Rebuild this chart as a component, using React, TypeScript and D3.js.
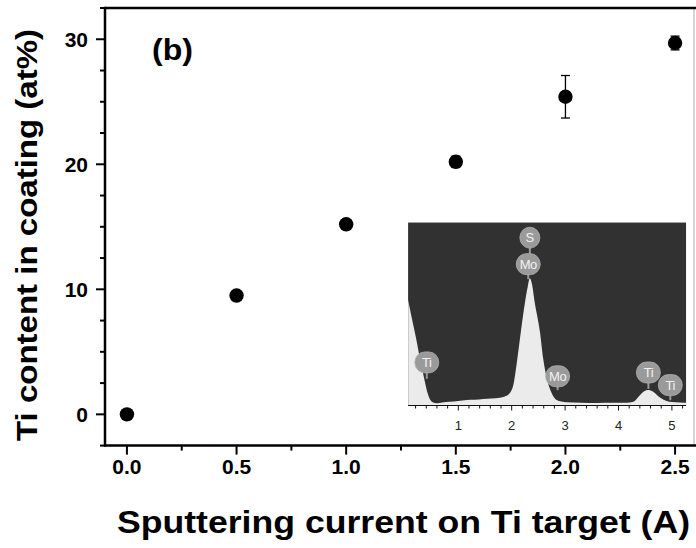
import React from "react";
import * as d3 from "d3";

// Main data
const currents = [0, 0.5, 1.0, 1.5, 2.0, 2.5];
const tiContent = [0, 9.5, 15.2, 20.2, 25.4, 29.7];
const tiError = [0, 0, 0, 0.45, 1.7, 0.55];
const xTicks = [0, 0.5, 1.0, 1.5, 2.0, 2.5];
const xTickLabels = ["0.0", "0.5", "1.0", "1.5", "2.0", "2.5"];
const xMinorTicks = [0.25, 0.75, 1.25, 1.75, 2.25];
const yTicks = [0, 10, 20, 30];
const yMinorTicks = [-2.5, 2.5, 5, 7.5, 12.5, 15, 17.5, 22.5, 25, 27.5, 32.5];

// Inset EDS spectrum (energy in keV, relative counts)
const spectrumEnergy = [0.06, 0.13, 0.21, 0.28, 0.36, 0.43, 0.51, 0.6, 0.7, 0.84, 1.0, 1.16, 1.3, 1.47, 1.62, 1.78, 1.87, 1.94, 2.03, 2.09, 2.17, 2.25, 2.3, 2.34, 2.38, 2.43, 2.53, 2.59, 2.66, 2.75, 2.84, 2.93, 3.03, 3.3, 3.6, 3.9, 4.15, 4.28, 4.4, 4.49, 4.55, 4.65, 4.77, 4.9, 5.0, 5.15, 5.3];
const spectrumCounts = [82.5, 68, 52, 36.5, 20.5, 8, 1.6, 0.5, 1.2, 1.8, 2.4, 3.2, 3.4, 4, 4.3, 5, 6, 7.5, 15, 31, 57, 81, 93, 99.8, 95, 81, 57, 36, 20, 8.5, 3.2, 2, 1.3, 1, 0.8, 0.9, 1, 1.8, 7, 10.3, 11.1, 9.8, 5.3, 2.4, 1.6, 1.2, 1.0];
const peakLabels = ["S", "Mo", "Ti", "Mo", "Ti", "Ti"];
const peakLabelEnergy = [2.34, 2.31, 0.41, 2.86, 4.56, 4.97];
const peakLabelHeight = [132, 111, 33, 22, 25, 15];
const peakStemEnd = [111, 99, 20, 11, 12, 3];
const insetTicks = [1, 2, 3, 4, 5];
const insetMinorTicks = [0.2, 0.4, 0.6, 0.8, 1.2, 1.4, 1.6, 1.8, 2.2, 2.4, 2.6, 2.8, 3.2, 3.4, 3.6, 3.8, 4.2, 4.4, 4.6, 4.8, 5.2];

const FONT = "'Liberation Sans', Arial, Helvetica, sans-serif";

export default function App() {
  const W = 696, H = 548;
  const x = d3.scaleLinear().domain([-0.1, 2.6]).range([105, 697]);
  const y = d3.scaleLinear().domain([-2.5, 32.5]).range([445.6, 8]);

  const x0 = x(-0.1), yBottom = y(-2.5), yTop = y(32.5);

  // inset scales
  const xi = d3.scaleLinear().domain([0, 5]).range([404.9, 671.9]);
  const yi = d3.scaleLinear().domain([0, 100]).range([404, 278]);
  const insetLeft = xi(0.06), insetRight = xi(5.265);
  const insetTop = yi(144), insetAxisY = 405.5;

  const specData = spectrumEnergy.map((e, i) => [e, spectrumCounts[i]] as [number, number]);
  const area = d3.area<[number, number]>()
    .x(d => xi(d[0]))
    .y0(insetAxisY)
    .y1(d => yi(d[1]))
    .curve(d3.curveMonotoneX);

  return (
    <svg width={W} height={H} style={{ display: "block", position: "absolute", left: 0, top: 0 }} fontFamily={FONT}>
      <rect x={0} y={0} width={W} height={H} fill="#fff" />

      {/* Inset */}
      <g>
        <rect x={400} y={215} width={293} height={218} fill="#fff" />
        <defs>
          <clipPath id="insetClip">
            <rect x={insetLeft} y={insetTop} width={insetRight - insetLeft} height={insetAxisY - insetTop} />
          </clipPath>
        </defs>
        <rect x={insetLeft} y={insetTop} width={insetRight - insetLeft} height={insetAxisY - insetTop} fill="#313131" />
        <path d={area(specData) || ""} fill="#ebebeb" clipPath="url(#insetClip)" />
        {peakLabels.map((lab, i) => {
          const cx = xi(peakLabelEnergy[i]);
          const cy = yi(peakLabelHeight[i]);
          const w = lab.length > 1 ? 24 : 20;
          return (
            <g key={i}>
              <line x1={cx} x2={cx} y1={cy} y2={yi(peakStemEnd[i])} stroke="#999" strokeWidth={2} />
              <rect x={cx - w / 2} y={cy - 10.5} width={w} height={21} rx={10} ry={10.5} fill="#9a9a9a" stroke="#b0b0b0" strokeWidth={0.8} />
              <text x={cx} y={cy + 4.5} textAnchor="middle" fontSize={13} fill="#f2f2f2" letterSpacing={lab.length > 1 ? -0.5 : 0}>{lab}</text>
            </g>
          );
        })}
        <line x1={insetLeft} x2={insetRight} y1={insetAxisY} y2={insetAxisY} stroke="#111" strokeWidth={1.2} />
        {insetMinorTicks.map(t => (
          <line key={"im" + t} x1={xi(t)} x2={xi(t)} y1={insetAxisY} y2={insetAxisY + 3} stroke="#111" strokeWidth={1} />
        ))}
        {insetTicks.map(t => (
          <g key={"it" + t}>
            <line x1={xi(t)} x2={xi(t)} y1={insetAxisY} y2={insetAxisY + 5} stroke="#111" strokeWidth={1} />
            <text x={xi(t)} y={insetAxisY + 24} textAnchor="middle" fontSize={13} fill="#222">{t}</text>
          </g>
        ))}
      </g>

      {/* right frame (light) */}
      <line x1={694} x2={694} y1={yTop} y2={yBottom} stroke="#c8c8c8" strokeWidth={1.5} />

      {/* Axes */}
      <line x1={x0} x2={W} y1={yTop} y2={yTop} stroke="#000" strokeWidth={2.5} />
      <line x1={x0} x2={W} y1={yBottom} y2={yBottom} stroke="#000" strokeWidth={2.5} />
      <line x1={x0} x2={x0} y1={yTop - 1.2} y2={yBottom + 1.2} stroke="#000" strokeWidth={2.5} />

      {yTicks.map(t => (
        <g key={"y" + t}>
          <line x1={x0 - 9} x2={x0} y1={y(t)} y2={y(t)} stroke="#000" strokeWidth={2} />
          <text x={88} y={y(t)} dy="0.36em" textAnchor="end" fontSize={21} fontWeight="bold">{t}</text>
        </g>
      ))}
      {yMinorTicks.map(t => (
        <line key={"ym" + t} x1={x0 - 5} x2={x0} y1={y(t)} y2={y(t)} stroke="#000" strokeWidth={2} />
      ))}
      {xTicks.map((t, i) => (
        <g key={"x" + t}>
          <line x1={x(t)} x2={x(t)} y1={yBottom} y2={yBottom + 9} stroke="#000" strokeWidth={2} />
          <text x={x(t)} y={yBottom + 28} textAnchor="middle" fontSize={21} fontWeight="bold">{xTickLabels[i]}</text>
        </g>
      ))}
      {xMinorTicks.map(t => (
        <line key={"xm" + t} x1={x(t)} x2={x(t)} y1={yBottom} y2={yBottom + 5} stroke="#000" strokeWidth={2} />
      ))}

      {/* Data */}
      {currents.map((c, i) => (
        <g key={"p" + i}>
          {tiError[i] > 0 && (
            <g stroke="#000" strokeWidth={1.3}>
              <line x1={x(c)} x2={x(c)} y1={y(tiContent[i] - tiError[i])} y2={y(tiContent[i] + tiError[i])} />
              <line x1={x(c) - 4.5} x2={x(c) + 4.5} y1={y(tiContent[i] - tiError[i])} y2={y(tiContent[i] - tiError[i])} />
              <line x1={x(c) - 4.5} x2={x(c) + 4.5} y1={y(tiContent[i] + tiError[i])} y2={y(tiContent[i] + tiError[i])} />
            </g>
          )}
          <circle cx={x(c)} cy={y(tiContent[i])} r={7.2} fill="#000" />
        </g>
      ))}

      <text x={152} y={60} fontSize={29} fontWeight="bold" textLength={41} lengthAdjust="spacingAndGlyphs">(b)</text>

      {/* Axis titles */}
      <text x={403.5} y={533} textAnchor="middle" fontSize={31} fontWeight="bold" textLength={573} lengthAdjust="spacingAndGlyphs">Sputtering current on Ti target (A)</text>
      <text transform={`translate(37,235) rotate(-90)`} textAnchor="middle" fontSize={29} fontWeight="bold" textLength={412} lengthAdjust="spacingAndGlyphs">Ti content in coating (at%)</text>
    </svg>
  );
}
